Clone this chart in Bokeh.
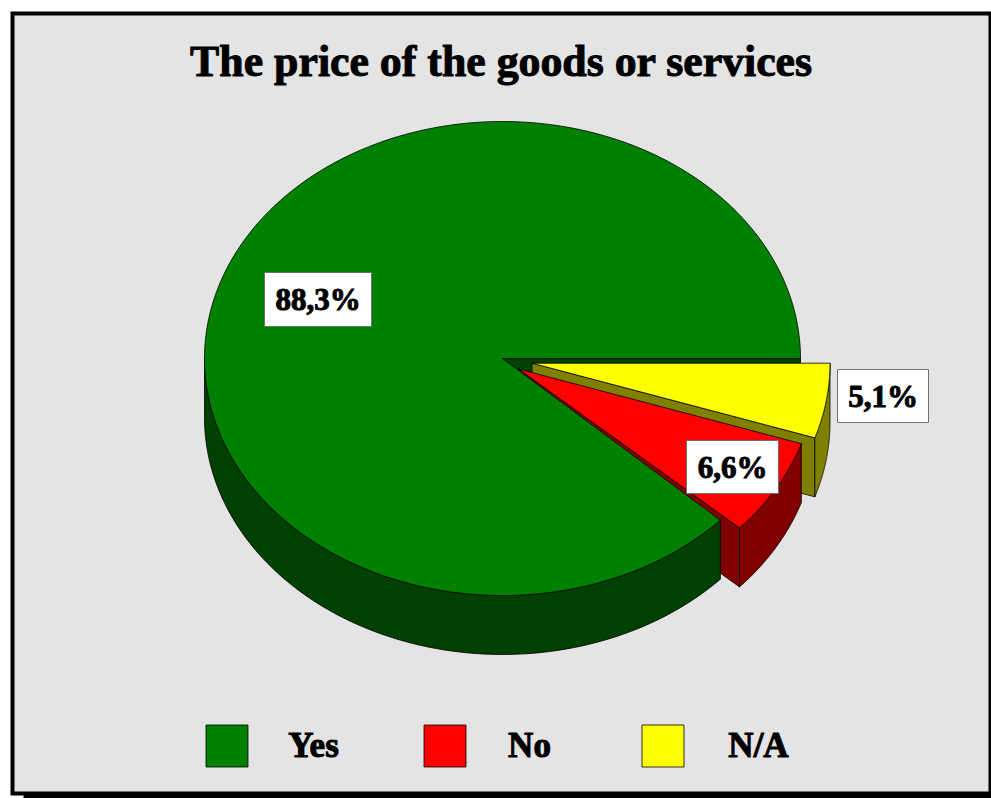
import numpy as np
from bokeh.core.properties import value
from bokeh.embed import file_html
from bokeh.models import Range1d
from bokeh.plotting import figure
from bokeh.resources import INLINE

title = "The price of the goods or services"
categories = ["Yes", "No", "N/A"]
percent = [88.3, 6.6, 5.1]
colors = ["#008000", "#ff0000", "#ffff00"]
side_colors = ["#004000", "#800000", "#808000"]

CX, CY, RX, RY, DEPTH = 502, 358, 298, 237, 59
OFFSETS = {"Yes": (0, 0), "No": (16, 10.5), "N/A": (29.5, 4.7)}
LEAD = {"Yes": np.radians(0.9), "No": 0.0, "N/A": 0.0}
LABEL_BOXES = {"Yes": (264, 371, 272, 326), "No": (686, 778, 440, 493), "N/A": (837, 928, 369, 422)}
LEGEND_X = [205.5, 423.5, 641.5]
LEGEND_TX = [313, 529, 758]
FONT = value("Liberation Serif")

p = figure(width=991, height=798, output_backend="svg", toolbar_location=None,
           x_range=Range1d(0, 991), y_range=Range1d(798, 0), min_border=0)
p.axis.visible = False
p.grid.visible = False
p.outline_line_color = None

# frame
p.quad(left=[23], right=[991], top=[24], bottom=[798], color="black", line_color=None)
p.quad(left=[10], right=[991], top=[11], bottom=[795], color="black", line_color=None)
p.quad(left=[14], right=[988], top=[15], bottom=[791], color="#e4e4e4", line_color=None)


def poly(xs, ys, fill):
    p.patch(list(xs), list(ys), fill_color=fill, line_color="black", line_width=0.8)


def pt(t, o):
    return CX + o[0] + RX * np.cos(t), CY + o[1] + RY * np.sin(t)


order = [2, 1, 0]
ext = {}
start = 0.0
for i in order:
    end = start + percent[i] / 100 * 2 * np.pi
    ext[i] = (start + LEAD[categories[i]], end)
    start = end

a0 = (CX, CY)
x1, y1 = pt(0, (0, 0))
poly([a0[0], x1, x1, a0[0]], [a0[1], y1, y1 + DEPTH, a0[1] + DEPTH], side_colors[0])

for i in order:
    s, e = ext[i]
    o = OFFSETS[categories[i]]
    ax, ay = CX + o[0], CY + o[1]
    if i != 0:
        ex, ey = pt(e, o)
        poly([ax, ex, ex, ax], [ay, ey, ey + DEPTH, ay + DEPTH], side_colors[i])
    ws, we = s, min(e, np.pi)
    t = np.linspace(ws, we, 120)
    rx, ry = pt(t, o)
    poly(np.r_[rx, rx[::-1]], np.r_[ry, ry[::-1] + DEPTH], side_colors[i])
    t = np.linspace(s, e, 400)
    rx, ry = pt(t, o)
    poly(np.r_[ax, rx], np.r_[ay, ry], colors[i])

for name, pc in zip(categories, percent):
    l, r, t, b = LABEL_BOXES[name]
    p.quad(left=[l], right=[r], top=[t], bottom=[b], fill_color="white",
           line_color="#707070", line_width=1)
    p.text(x=[(l + r) / 2], y=[(t + b) / 2], text=[f"{pc:.1f}%".replace(".", ",")],
           text_font=FONT, text_font_style="bold", text_font_size="31px",
           text_align="center", text_baseline="middle", text_color="black",
           outline_color="black")

for lx, tx, name, c in zip(LEGEND_X, LEGEND_TX, categories, colors):
    p.quad(left=[lx], right=[lx + 42], top=[724.5], bottom=[766.5], fill_color=c,
           line_color="black", line_width=0.8)
    p.text(x=[tx], y=[745], text=[name], text_font=FONT, text_font_style="bold",
           text_font_size="35px", text_align="center", text_baseline="middle",
           text_color="black", outline_color="black")

p.text(x=[501], y=[60], text=[title], text_font=FONT, text_font_style="bold",
       text_font_size="43.8px", text_align="center", text_baseline="middle", text_color="black",
       outline_color="black")

open("out.html", "w").write(file_html(p, INLINE))
